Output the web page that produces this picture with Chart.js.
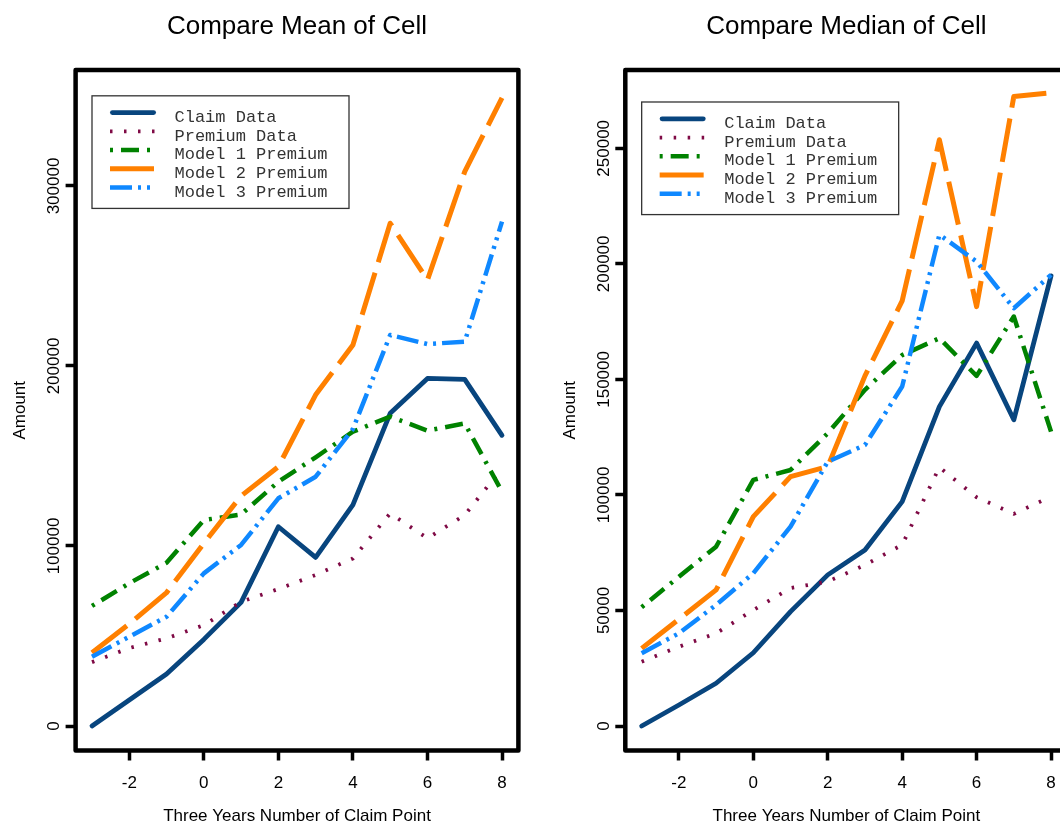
<!DOCTYPE html>
<html><head><meta charset="utf-8">
<script src="https://cdn.jsdelivr.net/npm/chart.js@4/dist/chart.umd.min.js"></script>
<style>
html,body{margin:0;padding:0;background:#fff;overflow:hidden;}
#wrap{position:relative;width:1060px;height:823px;overflow:hidden;background:#fff;}
#c1{position:absolute;left:0;top:0;}
#c2{position:absolute;left:530px;top:0;}
</style></head><body>
<div id="wrap"><canvas id="c1" width="530" height="823"></canvas><canvas id="c2" width="560" height="823"></canvas></div>
<script>
const claimPoints = [-3,-2,-1,0,1,2,3,4,5,6,7,8];
const seriesNames = ['Claim Data','Premium Data','Model 1 Premium','Model 2 Premium','Model 3 Premium'];
const meanClaim   = [0,14400,28900,48100,68700,110700,93700,122800,173700,193100,192600,161500];
const meanPremium = [35500,43300,48700,56000,69000,76100,83900,93100,118100,104300,117200,143100];
const meanModel1  = [66700,79300,90700,114400,117500,135700,149300,163500,171900,164100,168100,130200];
const meanModel2  = [40700,56700,74100,101500,127800,144100,184000,211700,279300,247800,308000,349000];
const meanModel3  = [38500,49600,60700,84800,100600,126500,138500,165000,217200,212200,213500,280200];
const medianClaim   = [0,9100,18500,31700,49500,65400,76200,97100,138200,165700,132500,194800];
const medianPremium = [27800,34300,40100,50200,59700,62500,69700,78400,112000,99000,91800,99300];
const medianModel1  = [51400,64600,77600,106500,110800,126700,145500,160500,167800,151500,177200,127400];
const medianModel2  = [33600,46200,58900,90600,107900,112300,151500,184000,253700,181500,272400,274000];
const medianModel3  = [31500,40100,52400,66100,86300,114400,121600,146900,212600,201000,180800,195200];
const xTickValues = [-2,0,2,4,6,8];
const meanYTicks = [0,100000,200000,300000];
const medianYTicks = [0,50000,100000,150000,200000,250000];
const titles = ['Compare Mean of Cell','Compare Median of Cell'];
const xTitle = 'Three Years Number of Claim Point';
const yTitle = 'Amount';

const styles = [
  {color:'#08457E', width:4.8, dash:[], cap:'round'},
  {color:'#7F0A45', width:3.8, dash:[2.5,11.5], cap:'butt'},
  {color:'#008200', width:4.5, dash:[3,8,18,8], cap:'butt'},
  {color:'#FF8000', width:5, dash:[44,11], cap:'butt'},
  {color:'#0F88FF', width:4.5, dash:[22,6,3,6,3,6], cap:'butt'}
];
const SANS = '"Liberation Sans", Arial, Helvetica, sans-serif';
const MONO = '"Liberation Mono", "Courier New", monospace';

const extrasPlugin = {
  id:'extras',
  afterDraw(chart){
    const o = chart.options.plugins.extras;
    const ctx = chart.ctx, a = chart.chartArea;
    ctx.save();
    // legend
    const lx = chart.scales.x.getPixelForValue(-3);
    const ly = chart.scales.y.getPixelForValue(o.legendTop);
    ctx.fillStyle='#fff';
    ctx.fillRect(lx, ly, 257, 112.6);
    ctx.lineWidth=1.3; ctx.strokeStyle='#333';
    ctx.strokeRect(lx, ly, 257, 112.6);
    chart.data.datasets.forEach((ds,i)=>{
      const ty = ly + 21.5 + i*18.75;
      ctx.save();
      ctx.setLineDash(ds.borderDash||[]);
      ctx.lineCap = ds.borderCapStyle||'butt';
      ctx.lineWidth = ds.borderWidth; ctx.strokeStyle = ds.borderColor;
      ctx.beginPath();
      const x0 = lx + 18 + (ds.borderCapStyle==='round'? ds.borderWidth/2:0);
      const x1 = lx + 64 - (ds.borderCapStyle==='round'? ds.borderWidth/2:0);
      ctx.moveTo(x0, ty-4.7); ctx.lineTo(x1, ty-4.7); ctx.stroke();
      ctx.restore();
      ctx.fillStyle='#333'; ctx.font='17px '+MONO; ctx.textAlign='left'; ctx.textBaseline='middle';
      ctx.fillText(ds.label, lx+82.5, ty);
    });
    // box
    ctx.lineWidth = 4.5; ctx.strokeStyle='#000'; ctx.lineJoin='round'; ctx.setLineDash([]);
    ctx.strokeRect(a.left, a.top, a.right-a.left, a.bottom-a.top);
    // titles
    ctx.fillStyle='#000'; ctx.textAlign='center'; ctx.textBaseline='alphabetic';
    const cx = (a.left+a.right)/2;
    ctx.font = '26px '+SANS;
    ctx.fillText(o.title, cx, 34);
    ctx.font = '17px '+SANS;
    ctx.fillText(xTitle, cx, 821);
    ctx.save();
    ctx.translate(a.left - 50.6, (a.top+a.bottom)/2);
    ctx.rotate(-Math.PI/2);
    ctx.fillText(yTitle, 0, 0);
    ctx.restore();
    ctx.restore();
  }
};

function makeChart(id, series, yTicks, yMin, yMax, yWidth, padRight, title, legendTop){
  const datasets = series.map((vals,i)=>({
    label: seriesNames[i],
    data: claimPoints.map((x,j)=>({x:x, y:vals[j]})),
    borderColor: styles[i].color,
    backgroundColor: styles[i].color,
    borderWidth: styles[i].width,
    borderDash: styles[i].dash,
    borderCapStyle: styles[i].cap,
    borderJoinStyle: 'round',
    pointRadius: 0,
    fill: false,
    tension: 0,
    order: 5 - i
  }));
  const tickFont = {family: SANS, size: 17};
  return new Chart(document.getElementById(id), {
    type:'line',
    data:{datasets},
    plugins:[extrasPlugin],
    options:{
      responsive:false, animation:false, devicePixelRatio:1,
      layout:{padding:{left:0, right:padRight, top:70, bottom:0}},
      plugins:{legend:{display:false}, tooltip:{enabled:false}, title:{display:false},
        extras:{title, legendTop}},
      scales:{
        x:{type:'linear', min:-3.44, max:8.44,
          afterBuildTicks: s=>{ s.ticks = xTickValues.map(v=>({value:v})); },
          afterFit: s=>{ s.height = 823-750.5; },
          grid:{display:true, drawOnChartArea:false, drawTicks:true, tickLength:10, tickWidth:3.5, tickColor:'#000'},
          border:{display:false},
          ticks:{font:tickFont, color:'#000', padding:12.8, maxRotation:0, minRotation:0, autoSkip:false, callback:v=>String(v)}
        },
        y:{type:'linear', min:yMin, max:yMax,
          afterBuildTicks: s=>{ s.ticks = yTicks.map(v=>({value:v})); },
          afterFit: s=>{ s.width = yWidth; },
          grid:{display:true, drawOnChartArea:false, drawTicks:true, tickLength:10, tickWidth:3.5, tickColor:'#000'},
          border:{display:false},
          ticks:{font:tickFont, color:'#000', padding:-16.9, minRotation:90, maxRotation:90, crossAlign:'center', autoSkip:false, callback:v=>String(v)}
        }
      }
    }
  });
}

makeChart('c1', [meanClaim, meanPremium, meanModel1, meanModel2, meanModel3], meanYTicks,
  -13611, 364444, 75.6, 11.6, titles[0], 350100);
makeChart('c2', [medianClaim, medianPremium, medianModel1, medianModel2, medianModel3], medianYTicks,
  -10602, 283886, 95.3, 22.6, titles[1], 270040);
</script>
</body></html>
